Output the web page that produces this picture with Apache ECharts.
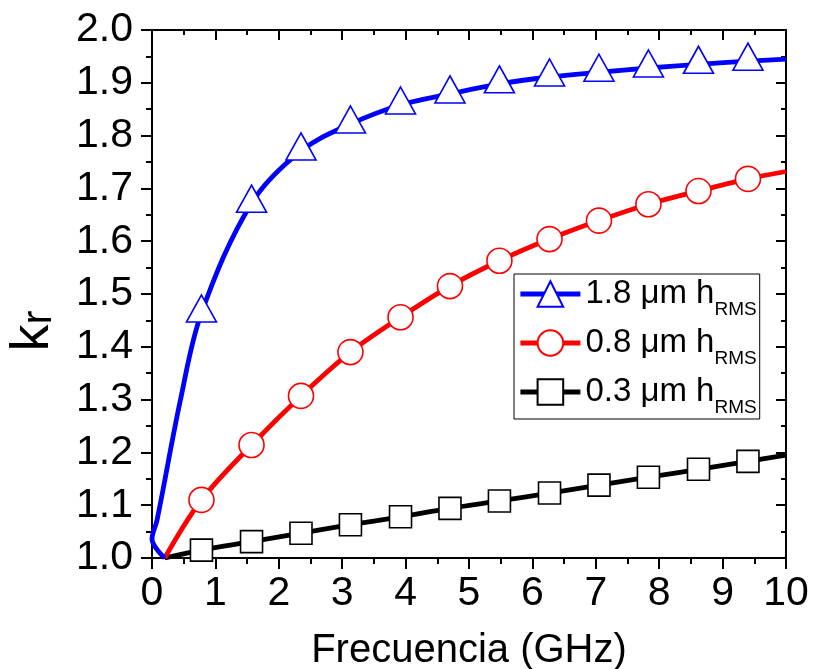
<!DOCTYPE html>
<html>
<head>
<meta charset="utf-8">
<script src="https://cdn.jsdelivr.net/npm/echarts@6/dist/echarts.min.js"></script>
<style>
  html, body { margin: 0; padding: 0; background: #fff; }
  #chart { width: 815px; height: 669px; }
</style>
</head>
<body>
<div id="chart"></div>
<script>
// frequencies where the markers sit (GHz)
const markerFreq = [0.78, 1.57, 2.35, 3.13, 3.92, 4.70, 5.48, 6.27, 7.05, 7.83, 8.62, 9.40]
// kr at the markers
const kr18 = [1.464, 1.672, 1.771, 1.822, 1.858, 1.879, 1.898, 1.911, 1.920, 1.928, 1.935, 1.941]
const kr08 = [1.110, 1.214, 1.307, 1.390, 1.456, 1.515, 1.563, 1.604, 1.639, 1.670, 1.695, 1.718]
const kr03 = [1.015, 1.031, 1.047, 1.063, 1.078, 1.094, 1.108, 1.123, 1.138, 1.153, 1.168, 1.183]
// extra curve points with no marker: start of each curve, and value at 10 GHz
const lead18 = [[0.2, 1.0], [0, 1.036], [0.08, 1.072], [0.45, 1.30]]
const lead08 = [[0.2, 1.0]]
const lead03 = [[0.2, 1.0]]
const end18 = [10, 1.945]
const end08 = [10, 1.732]
const end03 = [10, 1.195]
const names = ['1.8 μm h', '0.8 μm h', '0.3 μm h']
const xTicks = [0, 10, 1]
const yTicks = [1.0, 2.0, 0.1]

const font = 'Liberation Sans, Arial, sans-serif'

function curve (lead, ys, end) {
  const data = lead.map(p => ({ value: p, symbol: 'none' }))
  markerFreq.forEach((x, i) => data.push({ value: [x, ys[i]] }))
  data.push({ value: end, symbol: 'none' })
  return data
}

function makeSeries (name, color, data, symbol, size, offset, z) {
  return {
    name: name,
    type: 'line',
    data: data,
    smooth: 0.35,
    z: z,
    symbol: symbol,
    symbolSize: size,
    symbolOffset: offset,
    showAllSymbol: true,
    lineStyle: { color: color, width: 4.8 },
    itemStyle: { color: '#fff', borderColor: color, borderWidth: 1.6 },
    emphasis: { disabled: true },
    clip: true
  }
}

function xAxisOf (pos, inside) {
  return {
    type: 'value',
    position: pos,
    min: xTicks[0],
    max: xTicks[1],
    interval: xTicks[2],
    axisLine: { show: true, onZero: false, lineStyle: { color: '#000', width: 2 } },
    axisTick: { show: true, inside: inside, length: inside ? 10 : 11, lineStyle: { color: '#000', width: 2 } },
    minorTick: { show: true, splitNumber: 2, length: inside ? 5 : 6, lineStyle: { color: '#000', width: 2 } },
    splitLine: { show: false },
    axisLabel: {
      show: !inside,
      margin: 15,
      color: '#000',
      fontFamily: font,
      fontSize: 41
    }
  }
}

function yAxisOf (pos, inside) {
  return {
    type: 'value',
    position: pos,
    min: yTicks[0],
    max: yTicks[1],
    interval: yTicks[2],
    axisLine: { show: true, onZero: false, lineStyle: { color: '#000', width: 2 } },
    axisTick: { show: true, inside: inside, length: inside ? 10 : 11, lineStyle: { color: '#000', width: 2 } },
    minorTick: { show: true, splitNumber: 2, length: inside ? 5 : 6, lineStyle: { color: '#000', width: 2 } },
    splitLine: { show: false },
    axisLabel: {
      show: !inside,
      margin: 19,
      color: '#000',
      fontFamily: font,
      fontSize: 41,
      formatter: v => v.toFixed(1)
    }
  }
}

const chart = echarts.init(document.getElementById('chart'), null, { renderer: 'canvas' })

const xBottom = xAxisOf('bottom', false)
xBottom.name = 'Frecuencia (GHz)'
xBottom.nameLocation = 'middle'
xBottom.nameGap = 73
xBottom.nameTextStyle = { color: '#000', fontFamily: font, fontSize: 40 }

const yLeft = yAxisOf('left', false)
yLeft.name = '{k|k}{r|r}'
yLeft.nameLocation = 'middle'
yLeft.nameRotate = 90
yLeft.nameGap = 92
yLeft.nameTextStyle = {
  padding: [0, 74, 0, 0],
  rich: {
    k: { fontFamily: font, fontSize: 54, color: '#000', verticalAlign: 'bottom' },
    r: { fontFamily: font, fontSize: 42, color: '#000', verticalAlign: 'bottom' }
  }
}

const option = {
  animation: false,
  backgroundColor: '#fff',
  grid: { left: 152, right: 29, top: 30, bottom: 111, containLabel: false, outerBoundsMode: 'none' },
  xAxis: [xBottom, xAxisOf('top', true)],
  yAxis: [yLeft, yAxisOf('right', true)],
  legend: {
    orient: 'vertical',
    left: 514,
    top: 274,
    data: names,
    selectedMode: false,
    itemWidth: 60,
    itemHeight: 32,
    itemGap: 7,
    padding: [3, 3, 2, 4],
    borderColor: '#000',
    borderWidth: 1,
    lineStyle: { width: 4.8 },
    formatter: name => '{a|' + name + '}{b|RMS}',
    textStyle: {
      rich: {
        a: { fontFamily: font, fontSize: 33, color: '#000', lineHeight: 34, verticalAlign: 'top' },
        b: { fontFamily: font, fontSize: 19, color: '#000', lineHeight: 19, verticalAlign: 'top', padding: [23, 0, 0, 0] }
      }
    }
  },
  series: [
    makeSeries(names[2], '#000', curve(lead03, kr03, end03), 'rect', 22, [0, 0], 2),
    makeSeries(names[1], '#f00', curve(lead08, kr08, end08), 'circle', 25, [0, 0], 3),
    makeSeries(names[0], '#00f', curve(lead18, kr18, end18), 'triangle', [30, 27], [0, -4.5], 4)
  ]
}

chart.setOption(option)
</script>
</body>
</html>
